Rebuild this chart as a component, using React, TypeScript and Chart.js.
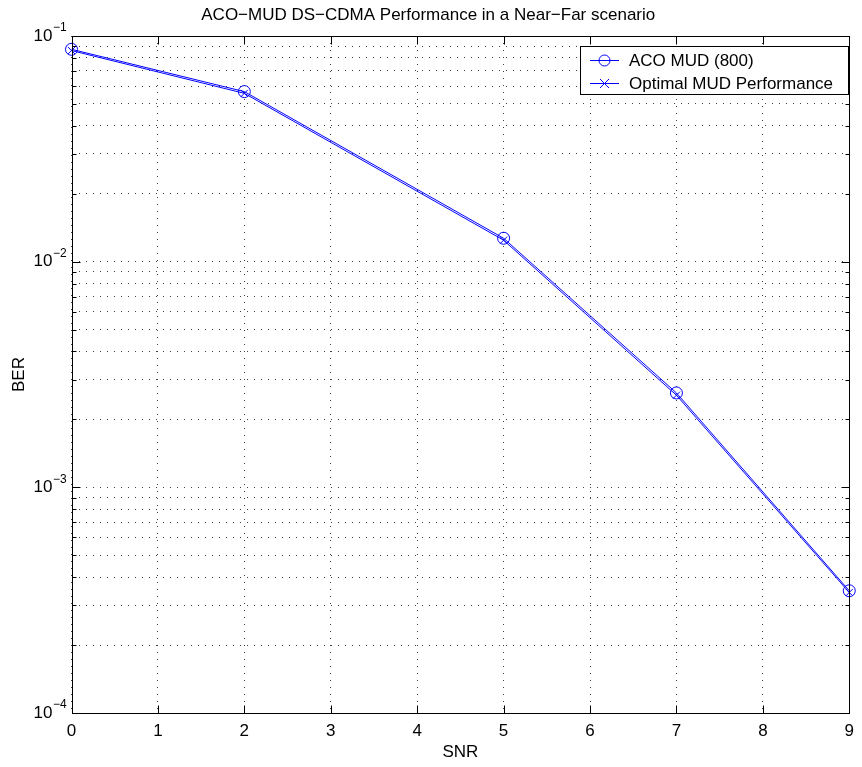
import React, { useEffect, useRef } from 'react';
import { Chart, registerables } from 'chart.js';

Chart.register(...registerables);

// ---- data ----
const snr = [0, 2, 5, 7, 9];
const acoBer = [0.0873, 0.0567, 0.0127, 0.00262, 0.000348];
const optimalBer = [0.0862, 0.0557, 0.01245, 0.00256, 0.000342];
const xTickValues = [0, 1, 2, 3, 4, 5, 6, 7, 8, 9];
const yDecades = [1e-4, 1e-3, 1e-2, 1e-1];
const yExponentLabels = ['−4', '−3', '−2', '−1'];
const yMinorMultipliers = [2, 3, 4, 5, 6, 7, 8, 9];
const titleText = 'ACO−MUD DS−CDMA Performance in a Near−Far scenario';
const seriesNames = ['ACO MUD (800)', 'Optimal MUD Performance'];
const xAxisTitle = 'SNR';
const yAxisTitle = 'BER';

const yTickValues: number[] = [];
yDecades.forEach((d, i) => {
  yTickValues.push(d);
  if (i < yDecades.length - 1) yMinorMultipliers.forEach((m) => yTickValues.push(d * m));
});
yTickValues.sort((a, b) => a - b);

const BLUE = 'rgb(0,0,255)';
const FONT = "'Liberation Sans', Arial, Helvetica, sans-serif";

const isDecade = (v: number) => Math.abs(Math.log10(v) - Math.round(Math.log10(v))) < 1e-6;

const matlabPlugin = {
  id: 'matlabLook',
  afterDatasetsDraw(chart: any) {
    const { ctx, chartArea: ca, scales } = chart;
    const xs = scales.x;
    const ys = scales.y;
    const L = Math.round(ca.left) + 0.5;
    const R = Math.round(ca.right) + 0.5;
    const T = Math.round(ca.top) + 0.5;
    const B = Math.round(ca.bottom) + 0.5;
    ctx.save();
    ctx.strokeStyle = '#000';
    ctx.lineWidth = 1;
    ctx.setLineDash([]);
    // frame
    ctx.strokeRect(L, T, R - L, B - T);
    // x ticks
    ctx.beginPath();
    xTickValues.forEach((v) => {
      const px = Math.round(xs.getPixelForValue(v)) + 0.5;
      ctx.moveTo(px, B);
      ctx.lineTo(px, B - 8);
      ctx.moveTo(px, T);
      ctx.lineTo(px, T + 8);
    });
    // y ticks
    yTickValues.forEach((v) => {
      const py = Math.round(ys.getPixelForValue(v)) + 0.5;
      const len = isDecade(v) ? 8 : 4;
      ctx.moveTo(L, py);
      ctx.lineTo(L + len, py);
      ctx.moveTo(R, py);
      ctx.lineTo(R - len, py);
    });
    ctx.stroke();

    // legend box
    const bx = 580.5, by = 46.5, bw = 268, bh = 48;
    ctx.fillStyle = '#fff';
    ctx.fillRect(bx, by, bw, bh);
    ctx.strokeStyle = '#000';
    ctx.strokeRect(bx, by, bw, bh);
    const rows = [60, 83];
    rows.forEach((ry, i) => {
      ctx.fillStyle = BLUE;
      ctx.fillRect(590, ry, 29, 1);
      const cx = 604.5;
      const y = ry + 0.5;
      ctx.strokeStyle = BLUE;
      ctx.lineWidth = 1;
      ctx.beginPath();
      if (i === 0) {
        ctx.arc(cx, y, 5.5, 0, Math.PI * 2);
      } else {
        ctx.moveTo(cx - 4.5, y - 4.5);
        ctx.lineTo(cx + 4.5, y + 4.5);
        ctx.moveTo(cx + 4.5, y - 4.5);
        ctx.lineTo(cx - 4.5, y + 4.5);
      }
      ctx.stroke();
      ctx.fillStyle = '#000';
      ctx.font = `17px ${FONT}`;
      ctx.textAlign = 'left';
      ctx.textBaseline = 'middle';
      ctx.fillText(seriesNames[i], 629, ry + 1);
    });
    ctx.restore();
  },
  afterDraw(chart: any) {
    const { ctx, scales } = chart;
    const ys = scales.y;
    ctx.save();
    ctx.fillStyle = '#000';
    ctx.font = `12px ${FONT}`;
    ctx.textAlign = 'left';
    ctx.textBaseline = 'middle';
    yDecades.forEach((d, i) => {
      const py = ys.getPixelForValue(d);
      ctx.fillText(yExponentLabels[i], 53, py - 8);
    });
    ctx.restore();
  },
};

export default function App() {
  const ref = useRef<HTMLCanvasElement | null>(null);
  useEffect(() => {
    if (!ref.current) return;
    const chart = new Chart(ref.current, {
      type: 'line',
      data: {
        datasets: [
          {
            label: seriesNames[0],
            data: snr.map((x, i) => ({ x, y: acoBer[i] })),
            borderColor: BLUE,
            backgroundColor: 'rgba(0,0,0,0)',
            borderWidth: 1,
            pointStyle: 'circle',
            pointRadius: 6,
            pointBorderColor: BLUE,
            pointBackgroundColor: 'rgba(0,0,0,0)',
            pointBorderWidth: 1,
            tension: 0,
            clip: false as any,
          },
          {
            label: seriesNames[1],
            data: snr.map((x, i) => ({ x, y: optimalBer[i] })),
            borderColor: BLUE,
            backgroundColor: BLUE,
            borderWidth: 1,
            pointStyle: 'crossRot',
            pointRadius: 5,
            pointBorderColor: BLUE,
            pointBackgroundColor: BLUE,
            pointBorderWidth: 1,
            tension: 0,
            clip: false as any,
          },
        ],
      },
      options: {
        responsive: false,
        animation: false,
        events: [],
        layout: { padding: { left: 0, right: 5.5, top: 0, bottom: 0 } },
        plugins: {
          legend: { display: false },
          tooltip: { enabled: false },
          title: {
            display: true,
            text: titleText,
            color: '#000',
            font: { family: FONT, size: 17, weight: 'normal' as any, lineHeight: 1.2 },
            padding: { top: 5, bottom: 10.6 },
          },
        },
        scales: {
          x: {
            type: 'linear',
            min: 0,
            max: 9,
            afterBuildTicks: (scale: any) => {
              scale.ticks = xTickValues.map((v) => ({ value: v }));
            },
            afterFit: (scale: any) => {
              scale.height = 54;
            },
            ticks: {
              color: '#000',
              font: { family: FONT, size: 17 },
              padding: 8,
              autoSkip: false,
              maxRotation: 0,
              callback: (v: any) => String(v),
            },
            grid: {
              display: true,
              drawTicks: false,
              color: 'rgba(0,0,0,0.75)',
              lineWidth: 1,
            },
            border: { display: false, dash: [1, 6] },
            title: {
              display: true,
              text: xAxisTitle,
              color: '#000',
              font: { family: FONT, size: 17, lineHeight: 1.2 },
              padding: { top: 0, bottom: 4 },
            },
          },
          y: {
            type: 'logarithmic',
            min: 1e-4,
            max: 1e-1,
            afterBuildTicks: (scale: any) => {
              scale.ticks = yTickValues.map((v) => ({ value: v, major: isDecade(v) }));
            },
            afterFit: (scale: any) => {
              scale.width = 71.5;
            },
            ticks: {
              color: '#000',
              font: { family: FONT, size: 17 },
              padding: 19,
              autoSkip: false,
              callback: (v: any) => (isDecade(Number(v)) ? '10' : ''),
            },
            grid: {
              display: true,
              drawTicks: false,
              color: 'rgba(0,0,0,0.75)',
              lineWidth: 1,
            },
            border: { display: false, dash: [1, 6] },
            title: {
              display: true,
              text: yAxisTitle,
              color: '#000',
              font: { family: FONT, size: 17, lineHeight: 1.2 },
              padding: { top: 9.5, bottom: 0 },
            },
          },
        },
      },
      plugins: [matlabPlugin],
    } as any);
    return () => chart.destroy();
  }, []);
  return (
    <div style={{ position: 'absolute', left: 0, top: 0, width: 862, height: 767, background: '#fff' }}>
      <canvas ref={ref} width={862} height={767} style={{ display: 'block', width: 862, height: 767 }} />
    </div>
  );
}
